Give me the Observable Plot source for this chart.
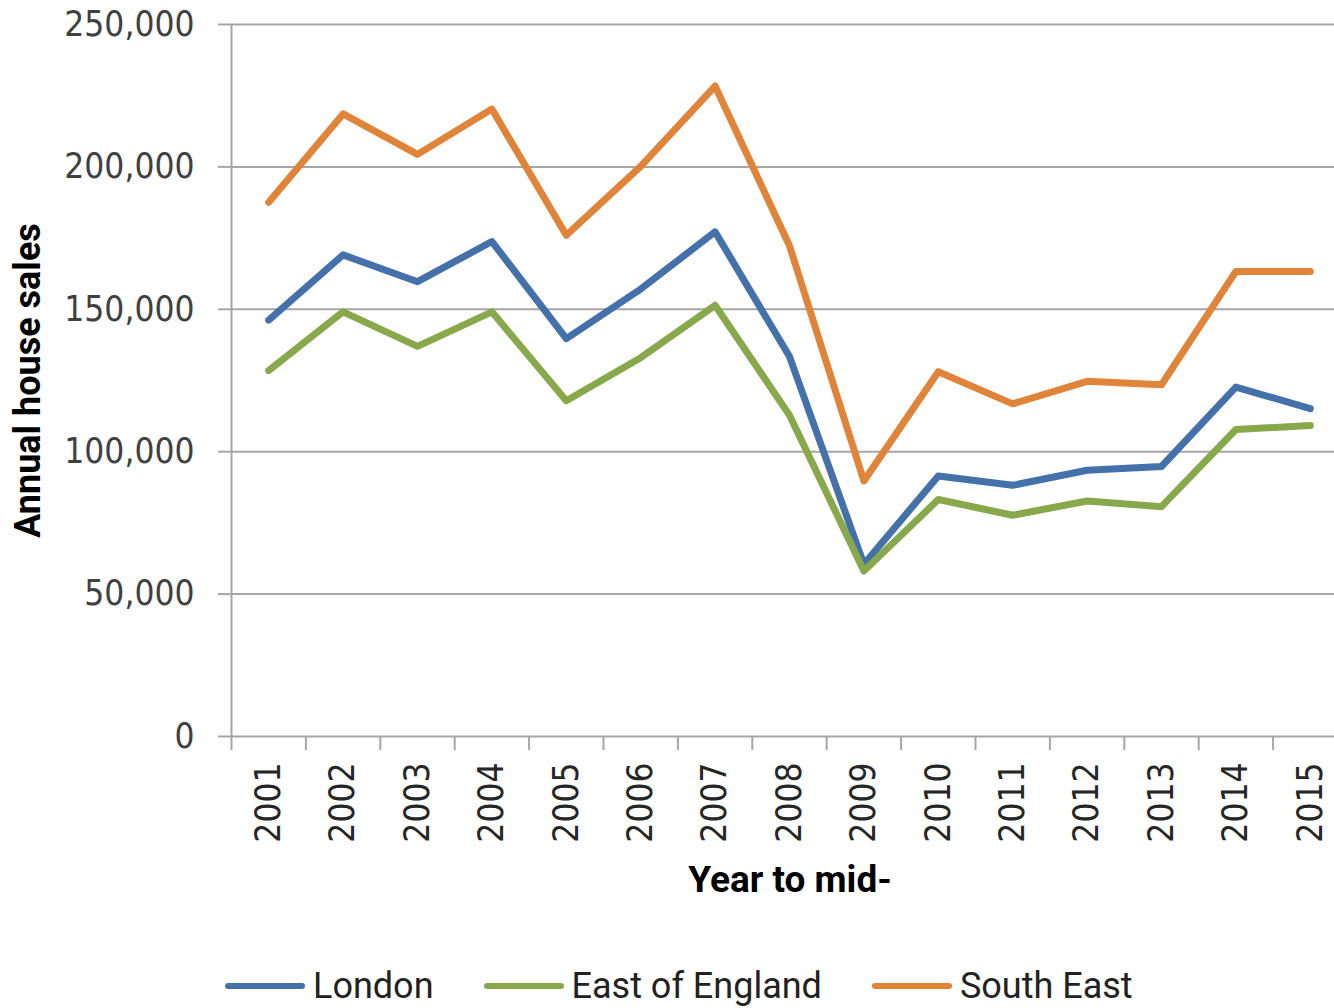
<!DOCTYPE html>
<html>
<head>
<meta charset="utf-8">
<script src="https://cdn.jsdelivr.net/npm/d3@7"></script>
<script src="https://cdn.jsdelivr.net/npm/@observablehq/plot@0.6"></script>
<style>
  html, body { margin: 0; padding: 0; background: #fff; overflow: hidden; }
  #chart svg { display: block; background: #fff; }
  .tickfont text { font-stretch: condensed; }
  #legend { display: flex; align-items: center; gap: 50px; margin-left: 225px; height: 48px; padding-top: 13px;
    font-family: "Liberation Sans Narrow", "Arial Narrow", "Roboto", sans-serif; font-size: 36px; color: #222; line-height: 1; }
  #legend .item { display: flex; align-items: center; gap: 8px; }
  #legend .sw { width: 80px; height: 6px; border-radius: 3px; }
</style>
</head>
<body>
<div id="chart"></div>
<div id="legend"></div>
<script>
const years = [2001, 2002, 2003, 2004, 2005, 2006, 2007, 2008, 2009, 2010, 2011, 2012, 2013, 2014, 2015];
const london = [146200, 169100, 159700, 173800, 139700, 157100, 177200, 133400, 60500, 91500, 88200, 93500, 94800, 122700, 115100];
const eastOfEngland = [128500, 149100, 137000, 149100, 117900, 133000, 151400, 112800, 58100, 83200, 77700, 82700, 80700, 107800, 109200];
const southEast = [187600, 218600, 204400, 220300, 176000, 200200, 228400, 172300, 89700, 128100, 116800, 124700, 123500, 163300, 163300];
const seriesNames = ["London", "East of England", "South East"];
const seriesColors = ["#4471A9", "#87A94B", "#E0843A"];
const yTicks = [0, 50000, 100000, 150000, 200000, 250000];
const yTitle = "Annual house sales";
const xTitle = "Year to mid-";

const seriesValues = [london, eastOfEngland, southEast];
const data = seriesNames.flatMap((name, i) =>
  years.map((yr, j) => ({series: name, year: yr, value: seriesValues[i][j]})));
const boundaries = years.map(y => y - 0.5);

const tickFont = '"DejaVu Sans Condensed", "DejaVu Sans", sans-serif';
const narrowFont = '"Liberation Sans Narrow", "Arial Narrow", Roboto, sans-serif';
const gridColor = "#a6a6a6";

const chart = Plot.plot({
  width: 1334,
  height: 949,
  marginLeft: 231,
  marginRight: 0,
  marginTop: 24,
  marginBottom: 213,
  x: {type: "linear", domain: [2000.5, 2015.5], range: [231, 1347]},
  y: {domain: [0, 250000], range: [736, 24]},
  color: {domain: seriesNames, range: seriesColors},
  marks: [
    Plot.ruleY(yTicks, {stroke: gridColor, strokeWidth: 2}),
    Plot.ruleX([boundaries[0]], {y1: 0, y2: 250000, stroke: gridColor, strokeWidth: 2}),
    Plot.axisY(yTicks, {
      tickSize: 13, tickPadding: 24, tickFormat: d3.format(","),
      fontSize: 35, fontFamily: tickFont, fill: "#404040", stroke: gridColor, strokeWidth: 2,
      label: null, className: "tickfont"
    }),
    Plot.axisX(boundaries, {
      tickSize: 14, tickFormat: () => "", stroke: gridColor, strokeWidth: 2, label: null
    }),
    Plot.axisX(years, {
      tickSize: 0, tickPadding: 26, rotate: -90, textAnchor: "end", lineAnchor: "middle",
      tickFormat: d => String(d), fontSize: 35, fontFamily: tickFont, fill: "#262626",
      label: null, className: "tickfont"
    }),
    Plot.line(data, {
      x: "year", y: "value", stroke: "series", z: "series",
      strokeWidth: 7, strokeLinejoin: "round", strokeLinecap: "round"
    }),
    Plot.text([yTitle], {
      frameAnchor: "left", dx: -203, rotate: -90, textAnchor: "middle", text: d => d,
      fontSize: 36, fontWeight: "bold", fontFamily: narrowFont, fill: "#000"
    }),
    Plot.text([xTitle], {
      frameAnchor: "bottom", dx: 7, dy: 155, text: d => d,
      fontSize: 37, fontWeight: "bold", fontFamily: narrowFont, fill: "#000"
    })
  ]
});
document.getElementById("chart").appendChild(chart);

const legend = document.getElementById("legend");
seriesNames.forEach((name, i) => {
  const item = document.createElement("div");
  item.className = "item";
  const sw = document.createElement("div");
  sw.className = "sw";
  sw.style.background = seriesColors[i];
  const label = document.createElement("span");
  label.textContent = name;
  item.appendChild(sw);
  item.appendChild(label);
  legend.appendChild(item);
});
</script>
</body>
</html>
